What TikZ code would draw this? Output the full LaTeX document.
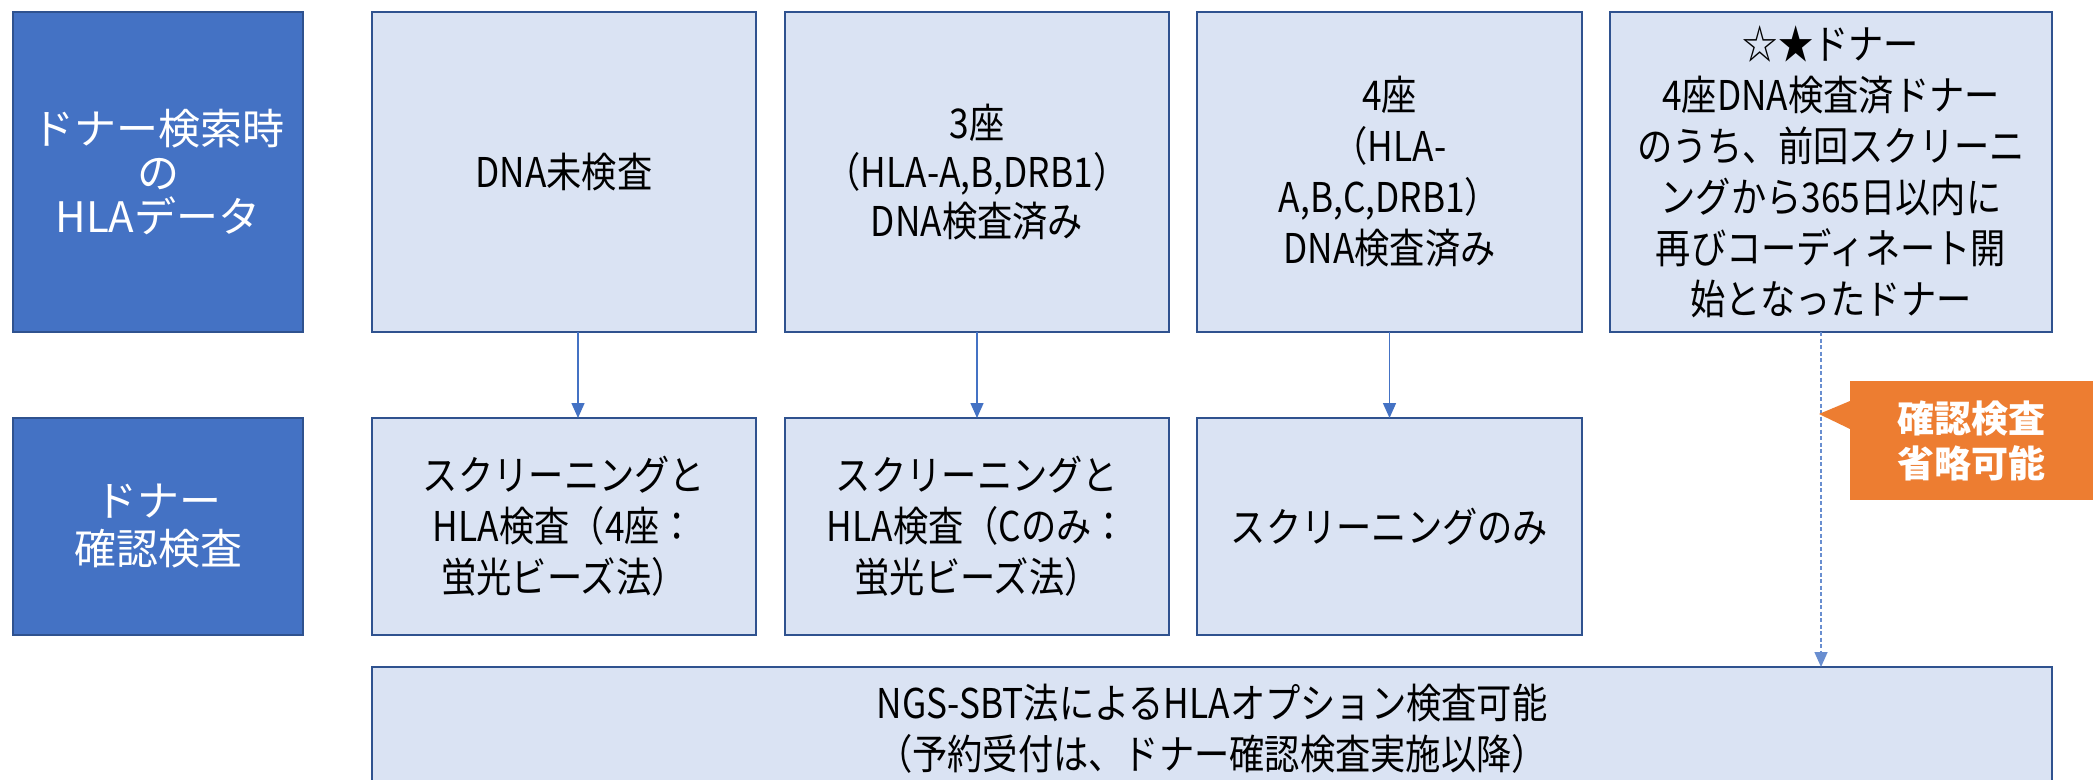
\documentclass[tikz,border=0pt]{standalone}
\usepackage{fontspec}
\setmainfont{Noto Sans CJK JP}[FakeStretch=0.86]
\newfontfamily\jpn{Noto Sans CJK JP}
\usetikzlibrary{arrows.meta,calc}
\definecolor{bordc}{HTML}{2F528F}
\definecolor{boxfill}{HTML}{DAE3F3}
\definecolor{headfill}{HTML}{4472C4}
\definecolor{arrc}{HTML}{4472C4}
\definecolor{calloutc}{HTML}{ED7D31}
\begin{document}
\begin{tikzpicture}[x=1pt,y=-1pt,
  box/.style={draw=bordc, fill=boxfill, line width=2.2pt, inner sep=0pt, outer sep=0pt,
    align=center, font=\fontsize{41}{51}\selectfont},
  hbox/.style={draw=bordc, fill=headfill, line width=2.2pt, inner sep=0pt, outer sep=0pt,
    text=white, align=center, minimum width=290pt},
  arr/.style={draw=arrc, line width=1.5pt, -{Triangle[length=15pt,width=13pt]}},
  dasharr/.style={draw=arrc!80, line width=1.5pt, dash pattern=on 4pt off 2.5pt,
    -{Triangle[length=15pt,width=13pt]}},
  callout/.style={fill=calloutc, inner sep=0pt, outer sep=0pt, text=white, align=center,
    font=\jpn\bfseries\fontsize{37}{45}\selectfont}]
\useasboundingbox (0,0) rectangle (2093,779);
\clip (0,0) rectangle (2093,779);
\fill[white] (0,0) rectangle (2093,779);

% left header boxes
\node[hbox, minimum height=320pt, font=\jpn\fontsize{42}{44}\selectfont] (h1) at (158,172)
  {ドナー検索時\\の\\HLAデータ};
\node[hbox, minimum height=217pt, font=\jpn\fontsize{42}{48}\selectfont] (h2) at (158,526.5)
  {ドナー\\確認検査};

% top row
\node[box, minimum width=384pt, minimum height=320pt] (A) at (564,172) {DNA未検査};
\node[box, minimum width=384pt, minimum height=320pt, font=\fontsize{41}{49}\selectfont] (B) at (977,172)
  {3座\\（HLA-A,B,DRB1）\\DNA検査済み};
\node[box, minimum width=385pt, minimum height=320pt] (C) at (1389.5,172)
  {4座\\（HLA-\\A,B,C,DRB1）\\DNA検査済み};
\node[box, minimum width=442pt, minimum height=320pt] (D) at (1831,172)
  {☆★ドナー\\4座DNA検査済ドナー\\のうち、前回スクリーニ\\ングから365日以内に\\再びコーディネート開\\始となったドナー};

% middle row
\node[box, minimum width=384pt, minimum height=217pt] (mA) at (564,526.5)
  {スクリーニングと\\HLA検査（4座：\\蛍光ビーズ法）};
\node[box, minimum width=384pt, minimum height=217pt] (mB) at (977,526.5)
  {スクリーニングと\\HLA検査（Cのみ：\\蛍光ビーズ法）};
\node[box, minimum width=385pt, minimum height=217pt] (mC) at (1389.5,526.5)
  {スクリーニングのみ};

% bottom box
\node[box, minimum width=1680pt, minimum height=123pt] (bot) at (1212,728.5)
  {NGS-SBT法によるHLAオプション検査可能\\（予約受付は、ドナー確認検査実施以降）};

% arrows
\draw[arr] ([xshift=14pt]A.south) -- ([xshift=14pt]mA.north);
\draw[arr] (B.south) -- (mB.north);
\draw[arr] (C.south) -- (mC.north);
\draw[dasharr] ([xshift=-10pt]D.south) -- ([xshift=-10pt]D.south |- bot.north);

% callout
\node[callout, minimum width=243pt, minimum height=119pt] (co) at (1971.5,440.5)
  {確認検査\\省略可能};
\fill[calloutc] ([yshift=39.5pt]co.west) -- (1819,414) -- ([yshift=11.5pt]co.west) -- cycle;
\end{tikzpicture}
\end{document}
